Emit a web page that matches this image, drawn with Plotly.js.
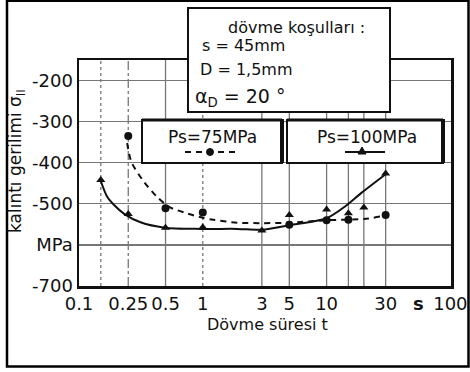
<!DOCTYPE html>
<html>
<head>
<meta charset="utf-8">
<script src="https://cdn.plot.ly/plotly-3.0.1.min.js"></script>
<style>html,body{margin:0;padding:0;background:#fff;}#chart{width:470px;height:372px;}</style>
</head>
<body>
<div id="chart"></div>
<script>
// ---- data ----
const t75 = [0.25, 0.5, 1, 5, 10, 15, 30];
const s75 = [-335, -511, -521, -551, -540, -539, -527];
const t100 = [0.15, 0.25, 0.5, 1, 3, 5, 10, 15, 20, 30];
const s100 = [-442, -525, -558, -557, -565, -527, -514, -523, -509, -426];
// fitted curves as drawn in the reference
const fit75T = [0.245, 0.265, 0.334, 0.427, 0.53, 0.74, 1, 1.22, 1.9, 3, 5, 10, 20, 27];
const fit75S = [-352, -398, -446, -483, -507, -523, -534, -539, -546, -547, -546, -540, -537, -531];
const fit100T = [0.149, 0.169, 0.192, 0.233, 0.314, 0.49, 0.98, 1.9, 3, 5, 10, 14, 19, 30];
const fit100S = [-442, -483, -503, -525, -545, -558, -561, -561, -563, -552, -535, -507, -474, -428];
// axes
const xTickVals = [0.1, 0.25, 0.5, 1, 3, 5, 10, 30, 55, 100];
const xTickText = ['0.1', '0.25', '0.5', '1', '3', '5', '10', '30', '<b>s</b>', '100'];
const yTickVals = [-700, -600, -500, -400, -300, -200];
const yTickText = ['-700', 'MPa', '-500', '-400', '-300', '-200'];
const gridX = [0.15, 0.25, 0.5, 1, 3, 5, 10, 15, 20, 30];
const gridDash = ['dot', 'dashdot', 'solid', 'dot', 'solid', 'solid', 'solid', 'solid', 'solid', 'solid'];
const legendNames = ['Ps=75MPa', 'Ps=100MPa'];
const condLines = ['dövme koşulları :', 's = 45mm', 'D = 1,5mm'];
const xTitle = 'Dövme süresi t';

const FONT = 'DejaVu Sans, Arial, sans-serif';
const INK = '#111';

const traces = [
  {x: fit75T, y: fit75S, type: 'scatter', mode: 'lines',
   line: {color: INK, width: 2, dash: '6px,5px', shape: 'spline', smoothing: 0.8}, hoverinfo: 'skip'},
  {x: fit100T, y: fit100S, type: 'scatter', mode: 'lines',
   line: {color: INK, width: 2, shape: 'spline', smoothing: 0.8}, hoverinfo: 'skip'},
  {x: t75, y: s75, type: 'scatter', mode: 'markers', name: legendNames[0],
   marker: {symbol: 'circle', size: 8, color: INK}},
  {x: t100, y: s100, type: 'scatter', mode: 'markers', name: legendNames[1],
   marker: {symbol: 'triangle-up', size: 8, color: INK}}
];

// pixel -> paper helpers (plot area 79..451 x 60..286)
const L = 79, R = 19, T = 60, B = 86, W = 470, H = 372;
const PW = W - L - R, PH = H - T - B;
const px = v => (v - L) / PW;
const py = v => (H - B - v) / PH;

const shapes = [];
gridX.forEach((g, i) => shapes.push({
  type: 'line', xref: 'x', yref: 'paper', x0: g, x1: g, y0: 0, y1: 1, layer: 'below',
  line: {color: '#777', width: 1.3, dash: gridDash[i]}
}));
// conditions box
shapes.push({type: 'rect', xref: 'paper', yref: 'paper', x0: px(188), x1: px(390), y0: py(112), y1: py(8),
  fillcolor: '#fff', line: {color: INK, width: 2}, layer: 'above'});
// legend boxes
[[142, 282], [287, 443]].forEach(b => {
  shapes.push({type: 'rect', xref: 'paper', yref: 'paper', x0: px(b[0]), x1: px(b[1]), y0: py(163), y1: py(120),
    fillcolor: '#fff', line: {color: INK, width: 2}, layer: 'above'});
  shapes.push({type: 'line', xref: 'paper', yref: 'paper', x0: px(b[1]), x1: px(b[1]), y0: py(163), y1: py(119),
    line: {color: INK, width: 4}, layer: 'above'});
  shapes.push({type: 'line', xref: 'paper', yref: 'paper', x0: px(b[0]), x1: px(b[1]), y0: py(120), y1: py(120),
    line: {color: INK, width: 3}, layer: 'above'});
});
// legend samples
shapes.push({type: 'line', xref: 'paper', yref: 'paper', x0: px(185), x1: px(236), y0: py(152), y1: py(152),
  line: {color: INK, width: 2, dash: '6px,5px'}, layer: 'above'});
shapes.push({type: 'circle', xref: 'paper', yref: 'paper', x0: px(206.5), x1: px(213.5), y0: py(155.5), y1: py(148.5),
  fillcolor: INK, line: {color: INK, width: 1}, layer: 'above'});
shapes.push({type: 'line', xref: 'paper', yref: 'paper', x0: px(345), x1: px(385), y0: py(152), y1: py(152),
  line: {color: INK, width: 2}, layer: 'above'});
shapes.push({type: 'path', xref: 'paper', yref: 'paper',
  path: 'M ' + px(358) + ' ' + py(154) + ' L ' + px(366) + ' ' + py(154) + ' L ' + px(362) + ' ' + py(147) + ' Z',
  fillcolor: INK, line: {color: INK, width: 1}, layer: 'above'});
// outer frame
shapes.push({type: 'rect', xref: 'paper', yref: 'paper', x0: px(7), x1: px(468.5), y0: py(366.5), y1: py(0.8),
  line: {color: '#000', width: 2.5}, layer: 'above'});

const ann = [];
const textFont = {family: FONT, size: 16, color: INK};
ann.push({xref: 'paper', yref: 'paper', x: px(226), y: py(27), xanchor: 'left', yanchor: 'middle',
  text: condLines[0], showarrow: false, font: textFont});
ann.push({xref: 'paper', yref: 'paper', x: px(200), y: py(46), xanchor: 'left', yanchor: 'middle',
  text: condLines[1], showarrow: false, font: textFont});
ann.push({xref: 'paper', yref: 'paper', x: px(198), y: py(70), xanchor: 'left', yanchor: 'middle',
  text: condLines[2], showarrow: false, font: textFont});
ann.push({xref: 'paper', yref: 'paper', x: px(193), y: py(97), xanchor: 'left', yanchor: 'middle',
  text: 'α<sub>D</sub> = 20 °', showarrow: false, font: {family: FONT, size: 19, color: INK}});
ann.push({xref: 'paper', yref: 'paper', x: px(212), y: py(137), xanchor: 'center', yanchor: 'middle',
  text: legendNames[0], showarrow: false, font: {family: FONT, size: 17, color: INK}});
ann.push({xref: 'paper', yref: 'paper', x: px(367), y: py(137), xanchor: 'center', yanchor: 'middle',
  text: legendNames[1], showarrow: false, font: {family: FONT, size: 17, color: INK}});
// y title
ann.push({xref: 'paper', yref: 'paper', x: px(16), y: py(161), xanchor: 'center', yanchor: 'middle',
  textangle: -90, text: 'kalıntı gerilimi σ<sub>II</sub>', showarrow: false,
  font: {family: FONT, size: 17, color: INK}});
// x title
ann.push({xref: 'paper', yref: 'paper', x: px(267), y: py(324), xanchor: 'center', yanchor: 'middle',
  text: xTitle, showarrow: false, font: {family: FONT, size: 16, color: INK}});

const layout = {
  width: W, height: H,
  margin: {l: L, r: R, t: T, b: B, pad: 0},
  paper_bgcolor: '#fff', plot_bgcolor: '#fff',
  showlegend: false,
  font: {family: FONT, color: INK},
  xaxis: {
    type: 'log', range: [-1, 2.005],
    tickmode: 'array', tickvals: xTickVals, ticktext: xTickText,
    showgrid: false, zeroline: false,
    showline: true, mirror: true, linecolor: INK, linewidth: 2.5,
    ticks: '', tickfont: {family: FONT, size: 18, color: INK}
  },
  yaxis: {
    range: [-700, -150],
    tickmode: 'array', tickvals: yTickVals, ticktext: yTickText,
    showgrid: true, gridcolor: '#777', gridwidth: 1.3, zeroline: false,
    showline: true, mirror: true, linecolor: INK, linewidth: 2.5,
    ticks: '', tickfont: {family: FONT, size: 18, color: INK}
  },
  shapes: shapes,
  annotations: ann
};

Plotly.newPlot('chart', traces, layout, {displayModeBar: false, staticPlot: true});
</script>
</body>
</html>
